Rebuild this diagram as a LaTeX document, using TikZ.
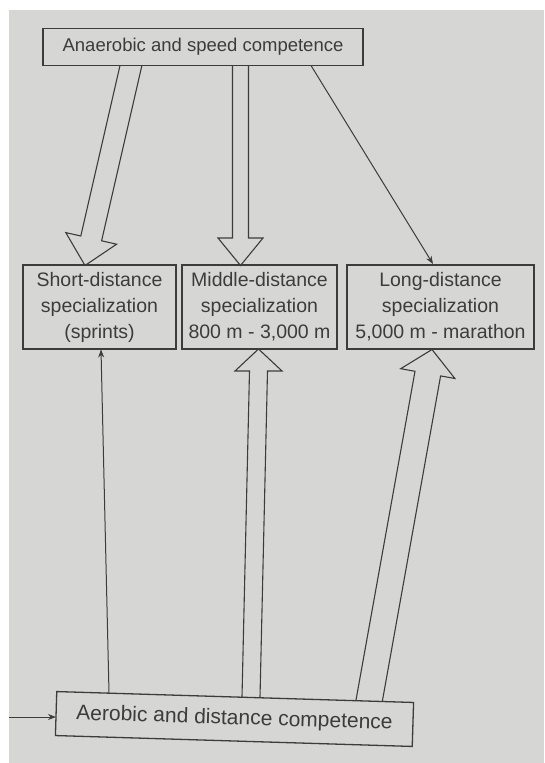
\documentclass[tikz,border=0pt]{standalone}
\usepackage{fontspec}
\setmainfont{Liberation Sans}
\usetikzlibrary{arrows.meta}
\definecolor{paper}{RGB}{214,215,212}
\definecolor{ink}{RGB}{60,60,60}
\begin{document}
\begin{tikzpicture}[x=1pt,y=-1pt,
  box/.style={draw=ink, line width=1.3pt, inner sep=0pt, align=center, text=ink},
  spec/.style={box, minimum height=84pt, font=\fontsize{19.5}{26}\selectfont},
  fatarrow/.style={draw=ink, line width=1.1pt, line join=miter},
  thinarrow/.style={draw=ink, line width=1pt, -{Stealth[length=8pt,width=6pt]}}]
\useasboundingbox (0,0) rectangle (544,763);
\fill[white] (0,0) rectangle (544,763);
\fill[paper] (9,10) rectangle (544,763);
% boxes
\node[box, minimum width=320pt, minimum height=37pt, font=\fontsize{18.5}{22}\selectfont] (anaer) at (203,47)
  {Anaerobic and speed competence};
\node[spec, minimum width=153pt] (short) at (99.5,307)
  {Short-distance\\ specialization\\ (sprints)};
\node[spec, minimum width=155pt] (middle) at (259.5,307)
  {Middle-distance\\ specialization\\ 800 m - 3,000 m};
\node[spec, minimum width=187pt] (long) at (440.5,307)
  {Long-distance\\ specialization\\ 5,000 m - marathon};
\node[box, minimum width=357pt, minimum height=44pt, rotate=-1.75, font=\fontsize{21}{25}\selectfont] (aerob) at (234.5,719)
  {Aerobic and distance competence};
% fat arrows
\draw[fatarrow] (120,65.5) -- (80.8,236) -- (65.8,232.6) -- (85,265.5) -- (116.6,244.2) -- (101.6,240.8) -- (141.9,65.5);
\draw[fatarrow] (232.5,65.5) -- (232.5,238) -- (218,238) -- (240.5,265.5) -- (263,238) -- (248.5,238) -- (248.5,65.5);
\draw[fatarrow] (242,697) -- (249.5,371) -- (235,371) -- (258.5,349) -- (282,371) -- (267.5,371) -- (260,697.3);
\draw[fatarrow] (355.9,700.6) -- (415,371.3) -- (400.7,368.7) -- (432,349.5) -- (454.9,378.5) -- (440.6,375.9) -- (382.3,701.4);
% thin arrows
\coordinate (a1) at (311,65.5);
\coordinate (a2) at (433,264);
\coordinate (b1) at (109,693);
\coordinate (b2) at (101,349.5);
\coordinate (c1) at (9,717);
\coordinate (c2) at (56,717);
\draw[thinarrow] (a1) -- (a2);
\draw[thinarrow] (b1) -- (b2);
\draw[thinarrow] (c1) -- (c2);
\end{tikzpicture}
\end{document}
